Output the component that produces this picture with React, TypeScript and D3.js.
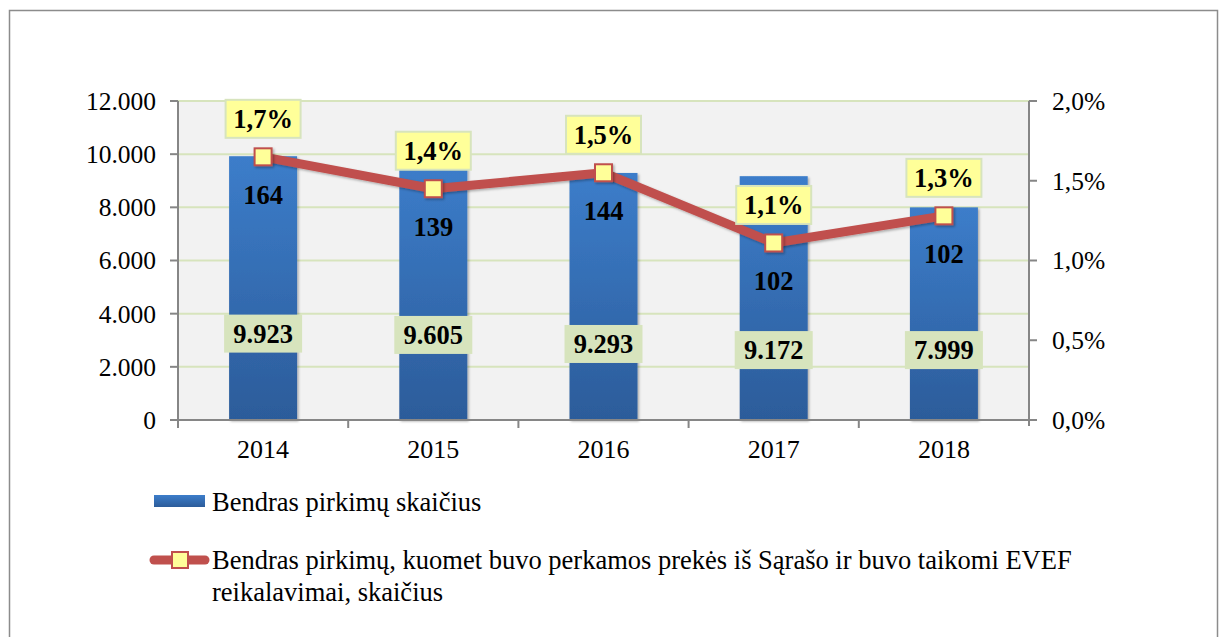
import React from "react";
import * as d3 from "d3";

const years = ["2014", "2015", "2016", "2017", "2018"];
const totalPurchases = [9923, 9605, 9293, 9172, 7999];
const totalLabels = ["9.923", "9.605", "9.293", "9.172", "7.999"];
const listPurchases = [164, 139, 144, 102, 102];
const sharePct = [1.65, 1.45, 1.55, 1.11, 1.28];
const shareLabels = ["1,7%", "1,4%", "1,5%", "1,1%", "1,3%"];
const leftTicks = [0, 2000, 4000, 6000, 8000, 10000, 12000];
const leftTickLabels = ["0", "2.000", "4.000", "6.000", "8.000", "10.000", "12.000"];
const rightTicks = [0, 0.5, 1.0, 1.5, 2.0];
const rightTickLabels = ["0,0%", "0,5%", "1,0%", "1,5%", "2,0%"];
// vertical anchor (in left-axis units) for the total-value label boxes
const totalLabelAnchor = [3250, 3200, 2860, 2630, 2630];

const legendBar = "Bendras pirkimų skaičius";
const legendLine1 = "Bendras pirkimų, kuomet buvo perkamos prekės iš Sąrašo ir buvo taikomi EVEF";
const legendLine2 = "reikalavimai, skaičius";

const W = 1220, H = 637;
const plot = { left: 178, right: 1029, top: 101, bottom: 420 };
const FONT = "'Liberation Serif', 'Times New Roman', serif";

export default function App() {
  const xBand = d3.scaleBand<string>().domain(years).range([plot.left, plot.right]);
  const yL = d3.scaleLinear().domain([0, 12000]).range([plot.bottom, plot.top]);
  const yR = d3.scaleLinear().domain([0, 2]).range([plot.bottom, plot.top]);
  const cx = (i: number) => (xBand(years[i]) as number) + xBand.bandwidth() / 2;
  const barW = 68;
  const line = d3.line<number>().x((_, i) => cx(i)).y((d) => yR(d));
  const axisColor = "#868686";
  const lineColor = "#c0504d";
  const ms = 17;
  const tickFs = 25.5;
  const legFs = 26.5;

  return (
    <svg width={W} height={H} style={{ position: "absolute", left: 0, top: 0 }} fontFamily={FONT}>
      <defs>
        <linearGradient id="barGrad" x1="0" y1="0" x2="0" y2="1">
          <stop offset="0" stopColor="#3c7dca" />
          <stop offset="1" stopColor="#2c5c9a" />
        </linearGradient>
        <filter id="shadow" x="-20%" y="-20%" width="150%" height="150%">
          <feDropShadow dx="1.5" dy="1.5" stdDeviation="1.2" floodColor="#000" floodOpacity="0.3" />
        </filter>
      </defs>
      <rect x={0} y={0} width={W} height={H} fill="#fff" />
      <rect x={9.5} y={10.5} width={1208} height={660} fill="#fff" stroke="#8c8c8c" strokeWidth={1.5} />

      {/* plot area */}
      <rect x={plot.left} y={plot.top} width={plot.right - plot.left} height={plot.bottom - plot.top} fill="#f2f2f2" />
      {leftTicks.slice(1).map((t) => (
        <line key={t} x1={plot.left} x2={plot.right} y1={yL(t)} y2={yL(t)} stroke="#d7e4bd" strokeWidth={2} />
      ))}

      {/* bars */}
      {totalPurchases.map((v, i) => (
        <rect key={i} x={cx(i) - barW / 2} y={yL(v)} width={barW} height={yL(0) - yL(v)} fill="url(#barGrad)" filter="url(#shadow)" />
      ))}

      {/* axes */}
      <line x1={plot.left} x2={plot.left} y1={plot.top} y2={plot.bottom} stroke={axisColor} strokeWidth={2} />
      <line x1={plot.right} x2={plot.right} y1={plot.top} y2={plot.bottom + 6} stroke={axisColor} strokeWidth={2} />
      <line x1={plot.left - 8} x2={plot.right} y1={plot.bottom} y2={plot.bottom} stroke={axisColor} strokeWidth={2} />
      {leftTicks.map((t, i) => (
        <g key={t}>
          <line x1={plot.left - 8} x2={plot.left} y1={yL(t)} y2={yL(t)} stroke={axisColor} strokeWidth={2} />
          <text x={156} y={yL(t)} dy="0.35em" textAnchor="end" fontSize={tickFs}>{leftTickLabels[i]}</text>
        </g>
      ))}
      {rightTicks.map((t, i) => (
        <g key={t}>
          <line x1={plot.right} x2={plot.right + 8} y1={yR(t)} y2={yR(t)} stroke={axisColor} strokeWidth={2} />
          <text x={1052} y={yR(t)} dy="0.35em" textAnchor="start" fontSize={tickFs}>{rightTickLabels[i]}</text>
        </g>
      ))}
      {years.map((yv) => (
        <line key={yv} x1={xBand(yv)} x2={xBand(yv)} y1={plot.bottom} y2={plot.bottom + 8} stroke={axisColor} strokeWidth={2} />
      ))}
      {years.map((yv, i) => (
        <text key={yv} x={cx(i)} y={449} dy="0.35em" textAnchor="middle" fontSize={26}>{yv}</text>
      ))}

      {/* total labels */}
      {totalLabels.map((l, i) => (
        <g key={i}>
          <rect x={cx(i) - 39} y={yL(totalLabelAnchor[i]) - 19} width={78} height={38} fill="#d7e4bd" />
          <text x={cx(i)} y={yL(totalLabelAnchor[i])} dy="0.35em" textAnchor="middle" fontSize={26.5} fontWeight="bold">{l}</text>
        </g>
      ))}

      {/* line */}
      <path d={line(sharePct) || ""} fill="none" stroke={lineColor} strokeWidth={9} strokeLinejoin="round" filter="url(#shadow)" />
      {sharePct.map((v, i) => (
        <rect key={i} x={cx(i) - ms / 2} y={yR(v) - ms / 2} width={ms} height={ms} fill="#ffff99" stroke={lineColor} strokeWidth={2} filter="url(#shadow)" />
      ))}

      {/* count labels */}
      {listPurchases.map((v, i) => (
        <text key={i} x={cx(i)} y={yR(sharePct[i]) + 38} dy="0.35em" textAnchor="middle" fontSize={26.5} fontWeight="bold">{v}</text>
      ))}
      {/* share labels */}
      {shareLabels.map((l, i) => (
        <g key={i}>
          <rect x={cx(i) - 37.5} y={yR(sharePct[i]) - 38 - 19} width={75} height={38} fill="#ffff99" stroke="#d7e4bd" strokeWidth={2} />
          <text x={cx(i)} y={yR(sharePct[i]) - 38} dy="0.35em" textAnchor="middle" fontSize={26.5} fontWeight="bold">{l}</text>
        </g>
      ))}

      {/* legend */}
      <rect x={154} y={495} width={51} height={12} fill="url(#barGrad)" />
      <text x={212} y={502} dy="0.35em" fontSize={legFs}>{legendBar}</text>
      <line x1={154} x2={205} y1={560} y2={560} stroke={lineColor} strokeWidth={9} strokeLinecap="round" />
      <rect x={172} y={552} width={16} height={16} fill="#ffff99" stroke={lineColor} strokeWidth={2} />
      <text x={212} y={560} dy="0.35em" fontSize={legFs}>{legendLine1}</text>
      <text x={212} y={592} dy="0.35em" fontSize={legFs}>{legendLine2}</text>
    </svg>
  );
}
